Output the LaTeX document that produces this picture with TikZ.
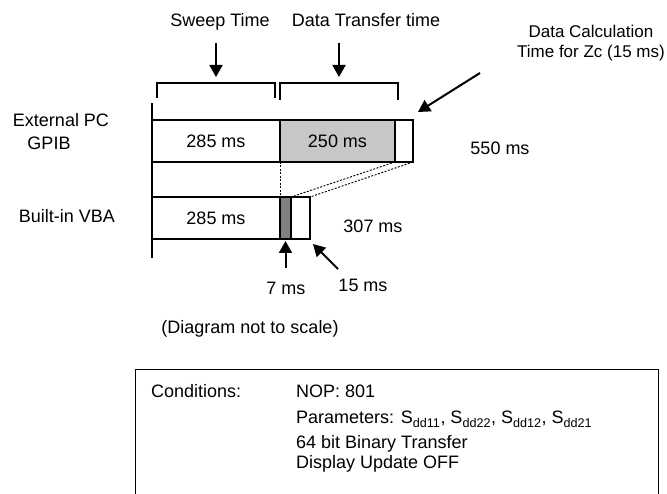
\documentclass[tikz,border=0pt]{standalone}
\usepackage{fontspec}
\setmainfont{Liberation Sans}
\usetikzlibrary{arrows.meta,calc}

\begin{document}
\begin{tikzpicture}[x=1pt,y=-1pt,
	lbl/.style={font=\fontsize{18}{21}\selectfont,inner sep=0pt,anchor=base},
	seg/.style={draw,line width=1.3pt,minimum height=42pt,inner sep=0pt,outer sep=0pt,anchor=north west,font=\fontsize{18}{21}\selectfont},
	tip/.style={line width=2pt,-{Triangle[length=12pt,width=13pt]}},
	guide/.style={line width=0.9pt,dash pattern=on 2pt off 1.5pt}]
	\useasboundingbox (0,0) rectangle (667,494);
	% time bars
	\node[seg,minimum width=128pt] (pc1) at (152,120) {285 ms};
	\node[seg,minimum width=115pt,fill=black!22] (pc2) at (pc1.north east) {250 ms};
	\node[seg,minimum width=18pt] (pc3) at (pc2.north east) {};
	\node[seg,minimum width=128pt] (vba1) at (152,197) {285 ms};
	\node[seg,minimum width=11pt,fill=black!50] (vba2) at (vba1.north east) {};
	\node[seg,minimum width=19pt] (vba3) at (vba2.north east) {};
	\draw[line width=1.8pt] (152,103) -- (152,258);
	\draw[guide] (pc1.south east) -- (vba1.north east);
	\draw[guide] (pc2.south east) -- (vba2.north east);
	\draw[guide] (pc3.south east) -- (vba3.north east);
	% brackets
	\coordinate (brk1) at (216,83);
	\coordinate (brk2) at (339,83);
	\draw[line width=1.8pt] (157,98) |- (275,83) -- (275,98);
	\draw[line width=1.8pt] (280,100) |- (398,83) -- (398,100);
	\node[lbl] (sweep) at (220,27) {Sweep Time};
	\node[lbl] (xfer) at (366,27) {Data Transfer time};
	\draw[tip] (brk1 |- 0,43) -- ([yshift=6pt]brk1);
	\draw[tip] (brk2 |- 0,43) -- ([yshift=6pt]brk2);
	\node[lbl,anchor=base east,font=\fontsize{17}{20}\selectfont] (calc2) at (665,58) {Time for Zc (15 ms)};
	\node[lbl,font=\fontsize{17}{20}\selectfont] (calc1) at ($(calc2.base)+(0,-20)$) {Data Calculation};
	\coordinate (calctail) at (480,73);
	\draw[tip] (calctail) -- ($(pc3.north east)+(5,-8)$);
	% row labels and totals
	\node[lbl] (ext) at (61,127) {External PC};
	\node[lbl] (gpib) at (49,150) {GPIB};
	\node[lbl] (vba) at (67,223) {Built-in VBA};
	\node[lbl] (t550) at (500,155) {550 ms};
	\node[lbl] (t307) at (373,233) {307 ms};
	\node[lbl] (ms7) at (286,295) {7 ms};
	\node[lbl] (ms15) at (363,292) {15 ms};
	\draw[tip] (vba2.south |- 0,268) -- ([yshift=-2pt]vba2.south);
	\coordinate (tail15) at (338,269);
	\draw[tip] (tail15) -- ($(vba3.south east)+(3,5)$);
	\node[lbl] (note) at (250,334) {(Diagram not to scale)};
	% conditions
	\draw[line width=1pt] (135,494) -- (135,370) -- (658,370) -- (658,494);
	\node[lbl,anchor=base west] (cond) at (151,398) {Conditions:};
	\node[lbl,anchor=base west] (nop) at (296,398) {NOP: 801};
	\node[lbl,anchor=base west] (par) at (296,424) {Parameters: S\textsubscript{dd11}, S\textsubscript{dd22}, S\textsubscript{dd12}, S\textsubscript{dd21}};
	\node[lbl,anchor=base west] (bin) at (296,448) {64 bit Binary Transfer};
	\node[lbl,anchor=base west] (disp) at (296,468) {Display Update OFF};
\end{tikzpicture}
\end{document}
